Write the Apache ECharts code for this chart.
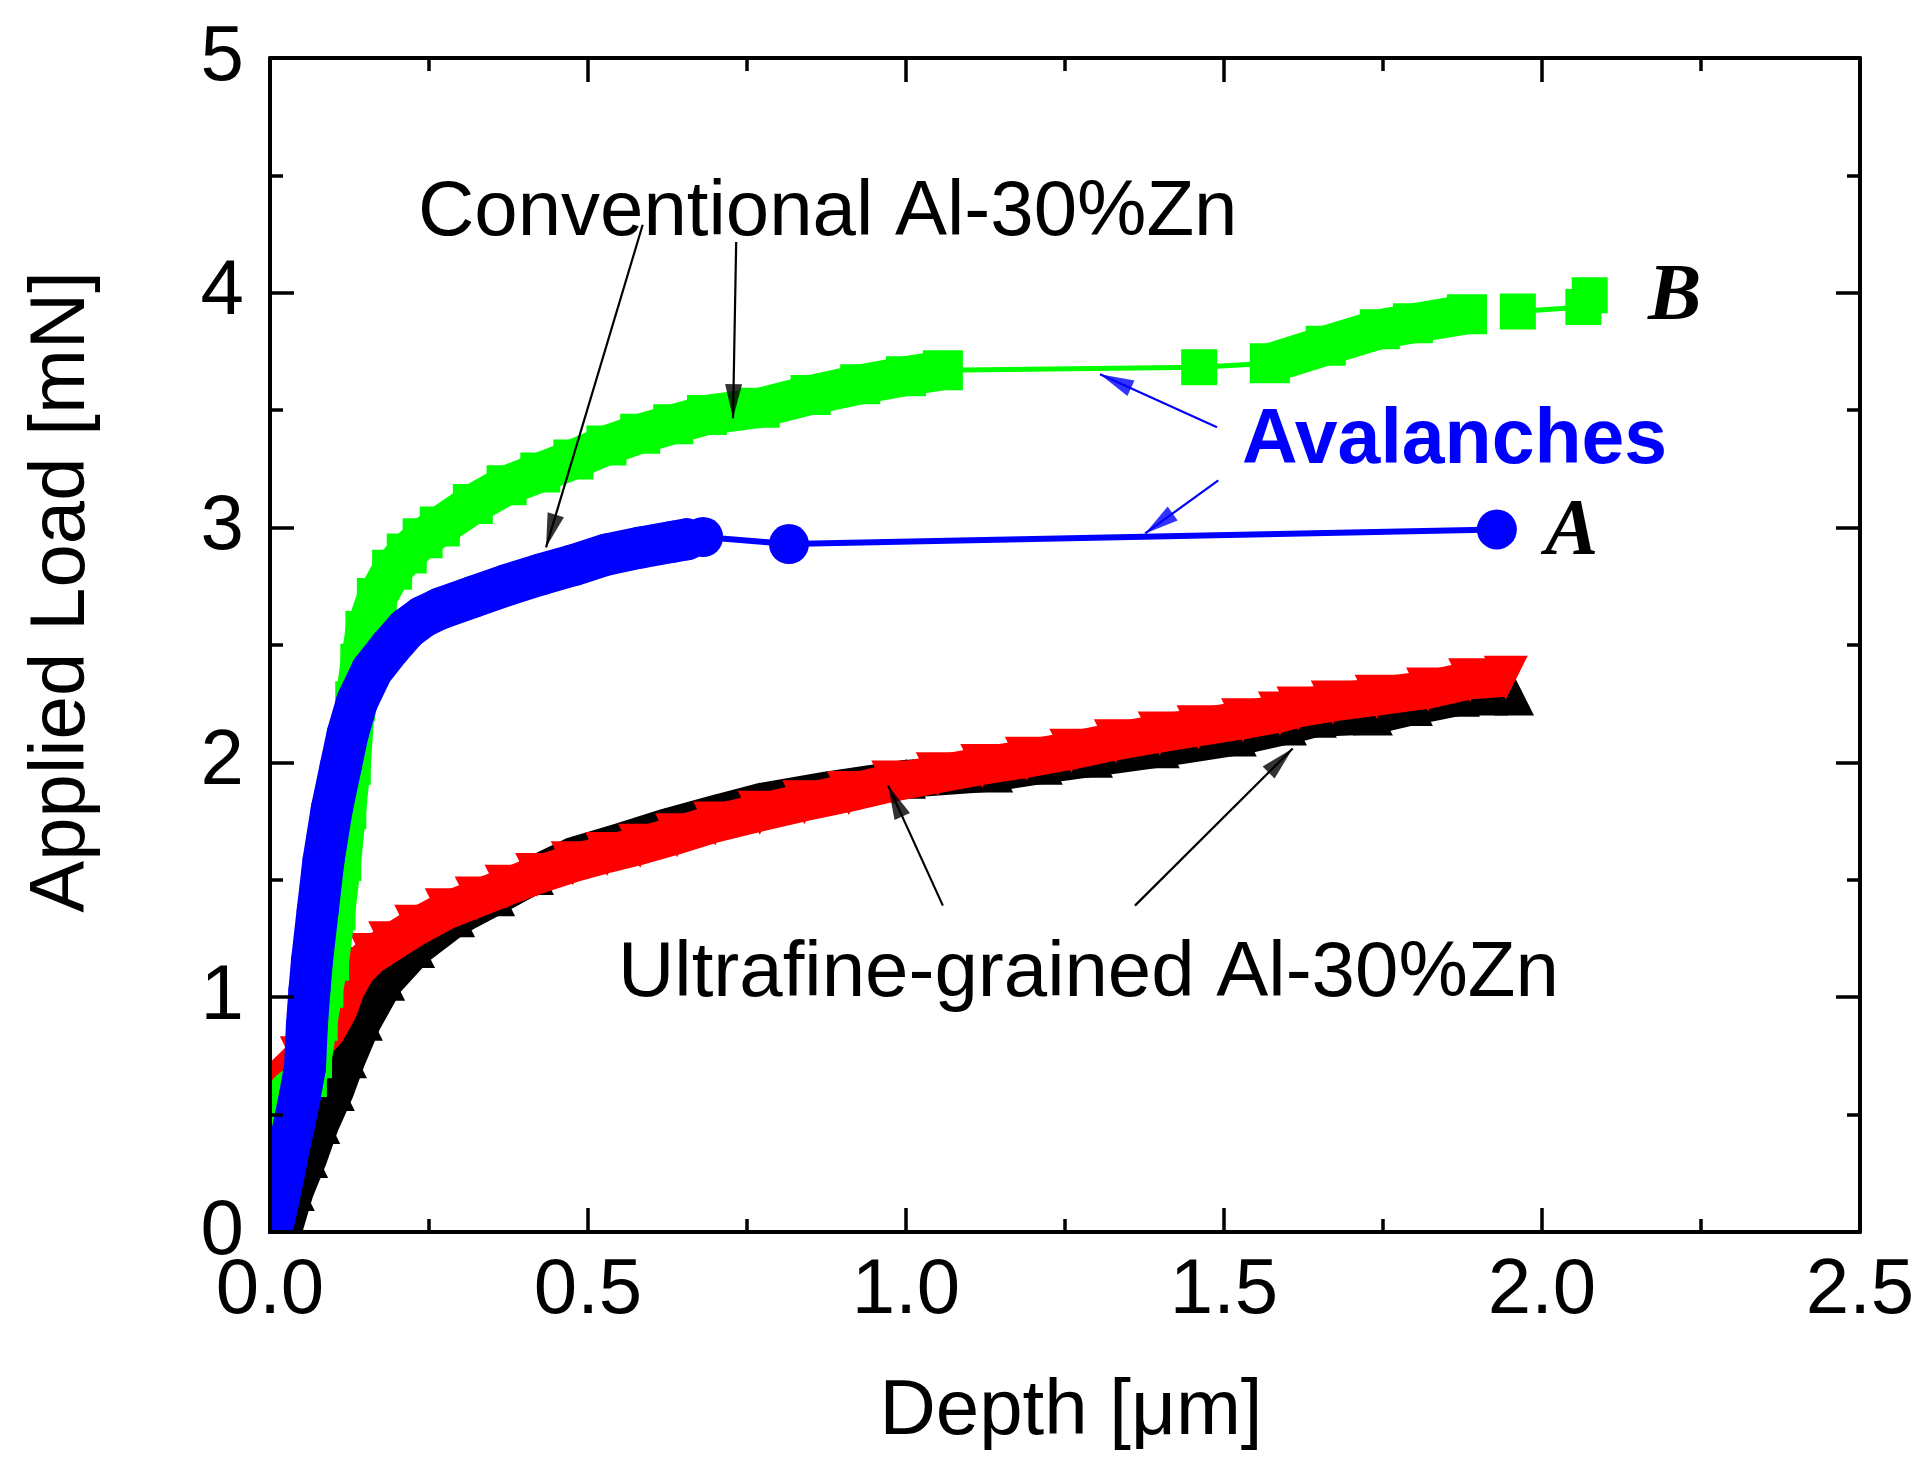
<!DOCTYPE html>
<html><head><meta charset="utf-8">
<script src="https://cdn.jsdelivr.net/npm/echarts@6/dist/echarts.min.js"></script>
<style>html,body{margin:0;padding:0;background:#fff}#c{width:1930px;height:1469px}</style>
</head><body><div id="c"></div>
<script>
const xTickLabels = ['0.0', '0.5', '1.0', '1.5', '2.0', '2.5'];
const yTickLabels = ['0', '1', '2', '3', '4', '5'];

// Conventional Al-30%Zn, curve B (green squares)
const greenLoading = [[0.000,0.00],[0.002,0.30],[0.005,0.52],[0.030,0.60],[0.058,0.66],[0.066,0.74],[0.075,0.90],[0.084,1.04],[0.093,1.155],[0.103,1.37],[0.112,1.58],[0.120,1.80],[0.127,1.99],[0.134,2.26],[0.142,2.42],[0.150,2.56],[0.168,2.70],[0.192,2.82],[0.215,2.89],[0.240,2.955],[0.267,3.005],[0.319,3.10],[0.372,3.18],[0.425,3.235],[0.477,3.29],[0.529,3.35],[0.582,3.40],[0.634,3.44],[0.687,3.48],[0.770,3.51],[0.850,3.565],[0.928,3.61],[1.000,3.645],[1.058,3.67]];
const greenAvalanche = [[1.058,3.67],[1.461,3.683],[1.572,3.70]];
const greenReload = [[1.572,3.70],[1.660,3.775],[1.745,3.845],[1.797,3.87],[1.882,3.909]];
const greenEnd = [[1.962,3.92],[2.065,3.94],[2.075,3.99]];

// Conventional Al-30%Zn, curve A (blue circles)
const blueLoading = [[0.002,0.00],[0.012,0.12],[0.022,0.25],[0.030,0.36],[0.038,0.46],[0.047,0.58],[0.055,0.70],[0.058,0.88],[0.062,1.03],[0.066,1.155],[0.075,1.37],[0.084,1.58],[0.097,1.80],[0.111,1.98],[0.122,2.12],[0.137,2.26],[0.160,2.39],[0.189,2.49],[0.215,2.57],[0.240,2.62],[0.267,2.655],[0.319,2.705],[0.372,2.755],[0.425,2.80],[0.477,2.84],[0.529,2.885],[0.582,2.915],[0.634,2.94],[0.655,2.95]];
const blueAvalanche = [[0.681,2.96],[0.816,2.93],[1.929,2.992]];

// Ultrafine-grained Al-30%Zn (red down-triangles)
const redLoading = [[0.000,0.00],[0.004,0.30],[0.008,0.50],[0.012,0.64],[0.050,0.74],[0.090,0.86],[0.108,0.95],[0.120,1.04],[0.137,1.12],[0.160,1.18],[0.189,1.23],[0.230,1.30],[0.278,1.37],[0.325,1.42],[0.372,1.47],[0.420,1.52],[0.476,1.57],[0.530,1.61],[0.582,1.645],[0.640,1.69],[0.700,1.74],[0.770,1.786],[0.840,1.83],[0.910,1.87],[0.980,1.914],[1.050,1.95],[1.120,1.985],[1.190,2.016],[1.260,2.05],[1.330,2.09],[1.399,2.123],[1.460,2.15],[1.530,2.18],[1.588,2.208],[1.617,2.23],[1.671,2.255],[1.740,2.28],[1.821,2.31],[1.887,2.35],[1.943,2.36]];

// Ultrafine-grained Al-30%Zn (black up-triangles)
const blackLoading = [[0.020,0.00],[0.039,0.175],[0.060,0.315],[0.079,0.46],[0.102,0.60],[0.121,0.74],[0.146,0.90],[0.181,1.07],[0.228,1.21],[0.291,1.34],[0.354,1.43],[0.415,1.52],[0.476,1.60],[0.550,1.66],[0.620,1.72],[0.700,1.78],[0.770,1.83],[0.876,1.88],[1.000,1.93],[1.137,1.957],[1.215,1.99],[1.294,2.02],[1.399,2.06],[1.520,2.11],[1.599,2.157],[1.646,2.19],[1.734,2.20],[1.797,2.24],[1.871,2.28],[1.915,2.285],[1.956,2.285]];

// annotation arrows [tail, tip] in data units
const blackArrows = [[[0.586,4.29],[0.434,2.916]], [[0.733,4.216],[0.728,3.466]], [[1.058,1.39],[0.972,1.901]], [[1.360,1.39],[1.608,2.059]]];
const blueArrows = [[[1.489,3.427],[1.305,3.653]], [[1.491,3.201],[1.376,2.975]]];

const SANS = '"Liberation Sans", Arial, sans-serif';
const SERIF = '"Liberation Serif", "Times New Roman", serif';
const HEAD_W = 17, HEAD_L = 34;

function band(data, color, width, symbol, size, z, rotate, cap) {
  return {
    type: 'line', z: z, silent: true, animation: false,
    data: data.map(p => ({value: p, symbol: (p[0] < 0.035 || p[1] < 0.1) ? 'none' : symbol})),
    showSymbol: true, symbol: symbol, symbolSize: size, symbolRotate: rotate || 0,
    itemStyle: {color: color, borderWidth: 0},
    lineStyle: {color: color, width: width, cap: cap || 'round', join: 'round'},
    emphasis: {disabled: true}
  };
}
function arrowLines(list, color) {
  return {
    type: 'line', data: [], z: 20, silent: true, animation: false,
    markLine: {
      silent: true, animation: false, symbol: ['none', 'none'],
      label: {show: false},
      lineStyle: {color: color, width: 2.2, type: 'solid'},
      emphasis: {disabled: true},
      data: list.map(p => [{coord: p[0]}, {coord: p[1]}])
    }
  };
}
function arrowHeads(id, color) {
  return {id: id, type: 'scatter', data: [], z: 21, silent: true, animation: false,
    symbol: 'triangle', symbolSize: [HEAD_W, HEAD_L],
    itemStyle: {color: color}, emphasis: {disabled: true}};
}

const axisCommon = {
  z: 50,
  axisLine: {show: true, onZero: false, lineStyle: {color: '#000', width: 4}},
  axisTick: {show: true, inside: true, length: 24, lineStyle: {color: '#000', width: 3.5}},
  minorTick: {show: true, splitNumber: 2, length: 13, lineStyle: {color: '#000', width: 3.5}},
  splitLine: {show: false}, minorSplitLine: {show: false}
};

const chart = echarts.init(document.getElementById('c'), null, {renderer: 'canvas'});
chart.setOption({
  animation: false,
  backgroundColor: '#ffffff',
  grid: {left: 270, right: 70, top: 58, bottom: 237, containLabel: false},
  xAxis: [
    Object.assign({type: 'value', position: 'bottom', min: 0, max: 2.5, interval: 0.5,
      axisLabel: {show: true, margin: 20, fontSize: 78, fontFamily: SANS, color: '#000',
        formatter: v => xTickLabels[Math.round(v / 0.5)]}}, axisCommon),
    Object.assign({type: 'value', position: 'top', min: 0, max: 2.5, interval: 0.5,
      axisLabel: {show: false}}, axisCommon)
  ],
  yAxis: [
    Object.assign({type: 'value', position: 'left', min: 0, max: 5, interval: 1,
      axisLabel: {show: true, margin: 26, fontSize: 78, fontFamily: SANS, color: '#000',
        formatter: v => yTickLabels[Math.round(v)]}}, axisCommon),
    Object.assign({type: 'value', position: 'right', min: 0, max: 5, interval: 1,
      axisLabel: {show: false}}, axisCommon)
  ],
  series: [
    band(blackLoading, '#000000', 38, 'triangle', 40, 2, 0, 'butt'),
    band(redLoading, '#ff0000', 38, 'triangle', 44, 3, 180, 'butt'),
    band(greenLoading, '#00ff00', 40, 'rect', 40, 4, 0, 'butt'),
    band(greenAvalanche, '#00ff00', 5, 'rect', 36, 4, 0, 'butt'),
    band(greenReload, '#00ff00', 40, 'rect', 40, 4, 0, 'butt'),
    band(greenEnd, '#00ff00', 5, 'rect', 36, 4, 0, 'butt'),
    band(blueLoading, '#0000ff', 42, 'circle', 42, 5, 0),
    band(blueAvalanche, '#0000ff', 6, 'circle', 40, 5, 0),
    arrowLines(blackArrows, '#000000'),
    arrowLines(blueArrows, '#0000ff'),
    arrowHeads('blackHeads', '#000000'),
    arrowHeads('blueHeads', '#0000ff')
  ],
  graphic: [
    // white margins so thick strokes end exactly at the frame, as in the source plot
    {type: 'rect', z: 40, silent: true, shape: {x: 0, y: 0, width: 268, height: 1469}, style: {fill: '#fff'}},
    {type: 'rect', z: 40, silent: true, shape: {x: 0, y: 1234, width: 1930, height: 235}, style: {fill: '#fff'}},
    {type: 'text', x: 418, y: 213, z: 45, style: {text: 'Conventional Al-30%Zn', fontSize: 78, fontFamily: SANS, fill: '#000', align: 'left', verticalAlign: 'middle', textAlign: 'left', textVerticalAlign: 'middle'}},
    {type: 'text', x: 618, y: 974, z: 45, style: {text: 'Ultrafine-grained Al-30%Zn', fontSize: 78, fontFamily: SANS, fill: '#000', align: 'left', verticalAlign: 'middle', textAlign: 'left', textVerticalAlign: 'middle'}},
    {type: 'text', x: 1242, y: 442, z: 45, style: {text: 'Avalanches', fontSize: 77, fontWeight: 'bold', fontFamily: SANS, fill: '#0000ff', align: 'left', verticalAlign: 'middle', textAlign: 'left', textVerticalAlign: 'middle'}},
    {type: 'text', x: 1648, y: 298, z: 45, style: {text: 'B', fontSize: 80, fontWeight: 'bold', fontStyle: 'italic', fontFamily: SERIF, fill: '#000', align: 'left', verticalAlign: 'middle', textAlign: 'left', textVerticalAlign: 'middle'}},
    {type: 'text', x: 1545, y: 533, z: 45, style: {text: 'A', fontSize: 80, fontWeight: 'bold', fontStyle: 'italic', fontFamily: SERIF, fill: '#000', align: 'left', verticalAlign: 'middle', textAlign: 'left', textVerticalAlign: 'middle'}},
    {type: 'text', x: 1071, y: 1412, z: 45, style: {text: 'Depth [μm]', fontSize: 78, fontFamily: SANS, fill: '#000', align: 'center', verticalAlign: 'middle', textAlign: 'center', textVerticalAlign: 'middle'}},
    {type: 'text', x: 62, y: 592, rotation: Math.PI / 2, z: 45, style: {text: 'Applied Load [mN]', fontSize: 78, fontFamily: SANS, fill: '#000', align: 'center', verticalAlign: 'middle', textAlign: 'center', textVerticalAlign: 'middle'}}
  ]
});

// arrowheads: apex on each tip, rotated along the arrow direction in pixel space
function headData(list) {
  return list.map(a => {
    const p0 = chart.convertToPixel({xAxisIndex: 0, yAxisIndex: 0}, a[0]);
    const p1 = chart.convertToPixel({xAxisIndex: 0, yAxisIndex: 0}, a[1]);
    const dx = p1[0] - p0[0], dy = p1[1] - p0[1];
    const len = Math.sqrt(dx * dx + dy * dy);
    const c = [p1[0] - dx / len * HEAD_L / 2, p1[1] - dy / len * HEAD_L / 2];
    const ang = Math.atan2(-dx, -dy) * 180 / Math.PI;
    return {value: chart.convertFromPixel({xAxisIndex: 0, yAxisIndex: 0}, c), symbolRotate: ang};
  });
}
chart.setOption({series: [
  {id: 'blackHeads', data: headData(blackArrows)},
  {id: 'blueHeads', data: headData(blueArrows)}
]});
</script>
</body></html>
